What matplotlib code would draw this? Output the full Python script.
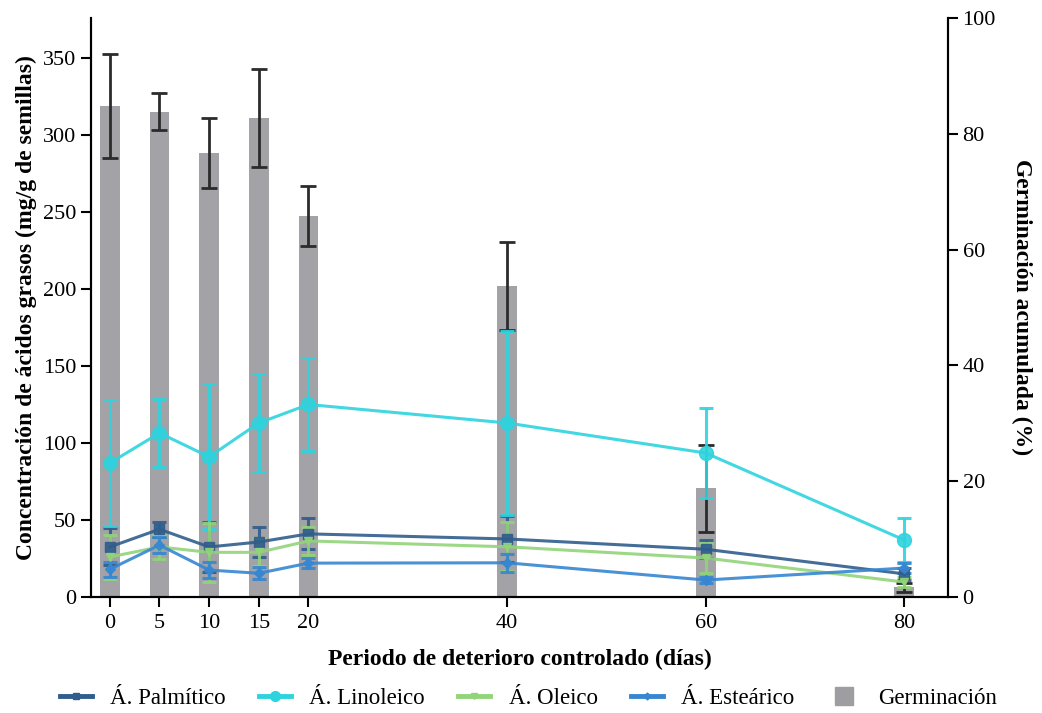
import numpy as np
import matplotlib.pyplot as plt
from matplotlib.lines import Line2D

plt.rcParams['font.family'] = ['Liberation Serif', 'DejaVu Serif']

dias = [0, 5, 10, 15, 20, 40, 60, 80]

germinacion = [84.8, 83.8, 76.7, 82.7, 65.8, 53.7, 18.8, 1.7]
germinacion_err = [8.9, 3.2, 6.0, 8.5, 5.1, 7.6, 7.5, 0.8]

palmitico = [32.5, 44.0, 32.5, 35.7, 41.0, 37.7, 31.0, 15.0]
palmitico_err = [12.0, 5.0, 16.0, 9.5, 10.0, 15.0, 6.0, 4.0]

linoleico = [87.0, 106.5, 91.0, 113.0, 125.0, 113.0, 93.5, 37.0]
linoleico_err = [41.0, 22.0, 47.0, 32.0, 30.5, 60.0, 29.0, 14.5]

oleico = [26.0, 32.5, 29.0, 29.0, 36.4, 32.6, 25.3, 9.7]
oleico_err = [14.0, 8.0, 19.0, 9.0, 9.0, 16.0, 10.0, 3.0]

estearico = [18.0, 33.7, 17.5, 15.4, 22.0, 22.2, 11.0, 18.8]
estearico_err = [5.0, 5.0, 5.0, 4.0, 3.0, 6.0, 2.0, 3.0]

c_palm = '#2f5d8c'
c_lino = '#2ed3de'
c_ole = '#92d47a'
c_est = '#3686d2'
c_bar = '#9e9da2'

fig = plt.figure(figsize=(10.42, 7.13), dpi=100)
ax = fig.add_axes([0.0873, 0.1627, 0.8225, 0.8121])
ax2 = ax.twinx()

# bars on the right axis, drawn behind the lines
ax2.bar(dias, germinacion, width=2.0, color=c_bar, alpha=0.95, zorder=1)
ax2.errorbar(dias, germinacion, yerr=germinacion_err, fmt='none', ecolor='#2b2b2b',
             elinewidth=2, capsize=6, capthick=2, zorder=2)
ax.set_zorder(ax2.get_zorder() + 1)
ax.patch.set_visible(False)

series = [
    (palmitico, palmitico_err, c_palm, 's', 7, 'Á. Palmítico'),
    (linoleico, linoleico_err, c_lino, 'o', 10, 'Á. Linoleico'),
    (oleico, oleico_err, c_ole, 'v', 6, 'Á. Oleico'),
    (estearico, estearico_err, c_est, 'D', 5, 'Á. Esteárico'),
]
for vals, err, col, mk, ms, lab in series:
    ax.errorbar(dias, vals, yerr=err, color=col, marker=mk, markersize=ms,
                linewidth=2.2, elinewidth=2.2, capsize=5, capthick=2.2, alpha=0.9, label=lab)

ax.set_xlim(-1.9, 84.4)
ax.set_ylim(0, 376)
ax2.set_ylim(0, 100)
ax.set_xticks(dias)
ax.set_yticks(np.arange(0, 351, 50))
ax2.set_yticks(np.arange(0, 101, 20))

for a in (ax, ax2):
    a.spines['top'].set_visible(False)
    a.tick_params(labelsize=16, width=1.5, length=7, direction='out')
    for s in a.spines.values():
        s.set_linewidth(1.5)
ax.tick_params(axis='x', pad=5)

ax.set_xlabel('Periodo de deterioro controlado (días)', fontsize=17, fontweight='bold', labelpad=12)
ax.set_ylabel('Concentración de ácidos grasos (mg/g de semillas)', fontsize=17, fontweight='bold', labelpad=4)
ax2.set_ylabel('Germinación acumulada (%)', fontsize=17, fontweight='bold', rotation=270, labelpad=26)

handles = [Line2D([0], [0], color=c, marker=m, markersize=ms * 0.7, linewidth=3.5)
           for _, _, c, m, ms, _ in series]
handles.append(Line2D([0], [0], color=c_bar, marker='s', markersize=13, linestyle='none'))
labels = [s[5] for s in series] + ['Germinación']
fig.legend(handles, labels, loc='center', bbox_to_anchor=(0.507, 0.021), ncol=5,
           frameon=False, fontsize=16.5, columnspacing=1.45, handlelength=1.4, handletextpad=0.8)

fig.savefig('out.png', dpi=100)
